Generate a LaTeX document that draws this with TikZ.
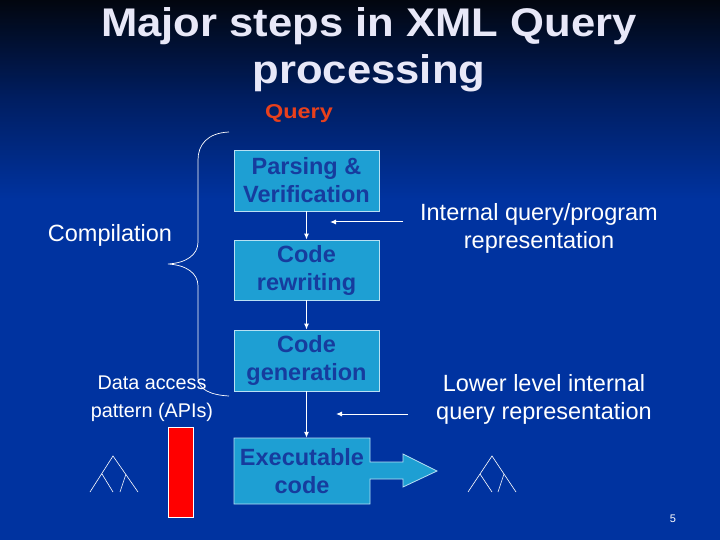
\documentclass[tikz,border=0pt]{standalone}
\usepackage{fontspec}
\setmainfont{Liberation Sans}
\usetikzlibrary{arrows.meta}
\definecolor{bgtop}{HTML}{02060F}
\definecolor{bgmid}{HTML}{001E62}
\definecolor{bgblue}{HTML}{0033A0}
\definecolor{boxfill}{HTML}{1E9FD3}
\definecolor{boxline}{HTML}{B8E0F4}
\definecolor{boxtext}{HTML}{163C9E}
\definecolor{titlecol}{HTML}{E8E8F8}
\definecolor{queryred}{HTML}{E8401C}
\tikzset{
  stepbox/.style={fill=boxfill, draw=boxline, line width=0.8pt, minimum width=145pt,
    minimum height=61pt, inner sep=0pt, text=boxtext, align=center,
    font=\bfseries\fontsize{23.5}{28}\selectfont},
  lbl/.style={text=white, align=center, font=\fontsize{23.5}{28}\selectfont},
  small/.style={text=white, align=center, font=\fontsize{19.8}{28}\selectfont},
  wline/.style={draw=white, line width=0.8pt},
  warrow/.style={draw=white, line width=1pt, -{Latex[length=6pt,width=5pt]}},
  titletext/.style={align=center, font=\bfseries\fontsize{40}{47}\selectfont}
}
\begin{document}
\begin{tikzpicture}[x=1pt,y=-1pt]
\useasboundingbox (0,0) rectangle (720,540);
% background
\shade[top color=bgtop, bottom color=bgmid] (0,0) rectangle (720,100);
\shade[top color=bgmid, bottom color=bgblue] (0,100) rectangle (720,200);
\fill[bgblue] (0,200) rectangle (720,540);
% title
\node[titletext, text=titlecol] (title) at (369,50)
  {\scalebox{1.09}[1]{Major steps in XML Query}\\\scalebox{1.09}[1]{processing}};
\node[text=queryred, font=\bfseries\fontsize{20}{24}\selectfont] (query) at (299,114)
  {\scalebox{1.17}[1]{Query}};
% boxes
\node[stepbox] (parse) at (306.5,180.5) {Parsing \&\\Verification};
\node[stepbox, minimum height=60pt] (rewrite) at (306.5,270) {Code\\rewriting};
\node[stepbox] (gen) at (306.5,360.5) {Code\\generation};
\draw[fill=boxfill, draw=boxline, line width=0.8pt]
  (234,438) -- (370,438) -- (370,462) -- (403,462) -- (403,454) -- (437,471)
  -- (403,487) -- (403,479) -- (370,479) -- (370,504) -- (234,504) -- cycle;
\node[text=boxtext, align=center, font=\bfseries\fontsize{23.5}{28}\selectfont,
  minimum width=136pt, minimum height=66pt, inner sep=0pt] (exec) at (302,471)
  {Executable\\code};
% vertical arrows
\draw[warrow] (parse.south) -- (rewrite.north);
\draw[warrow] (rewrite.south) -- (gen.north);
\draw[warrow] (gen.south) -- (gen.south |- exec.north);
% horizontal arrows
\coordinate (a1s) at (403,222);
\coordinate (a1e) at (330,222);
\coordinate (a2s) at (408,414);
\coordinate (a2e) at (336,414);
\draw[warrow] (a1s) -- (a1e);
\draw[warrow] (a2s) -- (a2e);
% labels
\node[lbl] (internal) at (539,228) {Internal query/program\\representation};
\node[lbl] (lower) at (544,399) {Lower level internal\\query representation};
\node[lbl] (compil) at (110,235) {Compilation};
\node[small] (data) at (152,399) {Data access\\pattern (APIs)};
% brace
\draw[wline, line width=0.7pt] (229,132) .. controls (207,133) and (198,145) .. (198,160)
  -- (198,242) .. controls (198,255) and (186,263) .. (168,264)
  .. controls (186,265) and (198,273) .. (198,286)
  -- (198,378) .. controls (198,389) and (210,395) .. (229,396);
% red bar
\draw[fill=red, draw=white, line width=0.6pt] (168,427) rectangle (193,517);
% trees
\draw[wline, line width=0.6pt] (90,492) -- (113,456) -- (138,492)
  (102,474) -- (113,492) (126,474) -- (120,492);
\draw[wline, line width=0.6pt] (468,492) -- (492,456) -- (516,492)
  (480,474) -- (492,492) (504,474) -- (498,492);
% page number
\node[text=white, font=\fontsize{11}{13}\selectfont] (pnum) at (673,519) {5};
\end{tikzpicture}
\end{document}
